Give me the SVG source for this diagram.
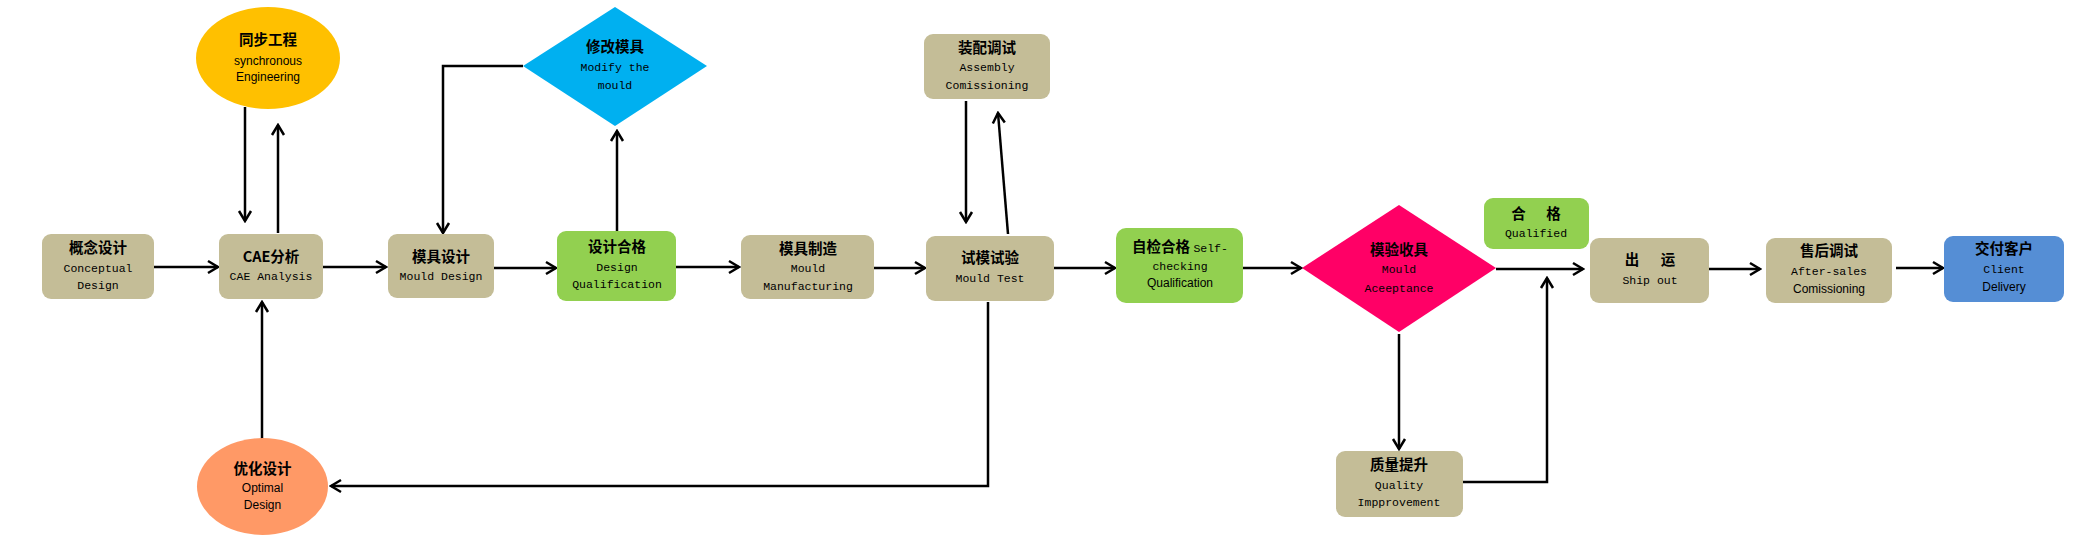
<svg xmlns="http://www.w3.org/2000/svg" width="2089" height="539" viewBox="0 0 2089 539">
<style>
.tan{fill:#C4BD97}
.grn{fill:#92D050}
.cn{font-family:"Noto Sans CJK SC","Noto Sans",sans-serif;font-weight:bold;font-size:14.5px;fill:#000;text-anchor:middle}
.mo{font-family:"Liberation Mono",monospace;font-size:11.5px;fill:#000;text-anchor:middle}
.sa{font-family:"Liberation Sans",Arial,sans-serif;font-size:12px;fill:#000;text-anchor:middle}
.ln{fill:none;stroke:#000;stroke-width:2.5}
</style>
<defs>
<marker id="ah" markerWidth="14" markerHeight="16" refX="12" refY="8" orient="auto" markerUnits="userSpaceOnUse" viewBox="0 0 14 16">
<path d="M2,2 L12,8 L2,14" fill="none" stroke="#000" stroke-width="2.5"/>
</marker>
</defs>
<rect width="2089" height="539" fill="#fff"/>
<g id="connectors">
<path class="ln" d="M154,267 H218" marker-end="url(#ah)"/>
<path class="ln" d="M245,107 V221" marker-end="url(#ah)"/>
<path class="ln" d="M278,233 V125" marker-end="url(#ah)"/>
<path class="ln" d="M323,267 H386" marker-end="url(#ah)"/>
<path class="ln" d="M494,268 H556" marker-end="url(#ah)"/>
<path class="ln" d="M617,231 V131" marker-end="url(#ah)"/>
<path class="ln" d="M523,66 H443 V233" marker-end="url(#ah)"/>
<path class="ln" d="M676,267 H739" marker-end="url(#ah)"/>
<path class="ln" d="M874,268 H925" marker-end="url(#ah)"/>
<path class="ln" d="M966,101 V222" marker-end="url(#ah)"/>
<path class="ln" d="M1008,234 L998,113" marker-end="url(#ah)"/>
<path class="ln" d="M1054,268 H1115" marker-end="url(#ah)"/>
<path class="ln" d="M1243,268 H1301" marker-end="url(#ah)"/>
<path class="ln" d="M1496,269 H1583" marker-end="url(#ah)"/>
<path class="ln" d="M1399,334 V449" marker-end="url(#ah)"/>
<path class="ln" d="M1463,482 H1547 V278" marker-end="url(#ah)"/>
<path class="ln" d="M1709,269 H1760" marker-end="url(#ah)"/>
<path class="ln" d="M1896,268 H1943" marker-end="url(#ah)"/>
<path class="ln" d="M988,302 V486 H331" marker-end="url(#ah)"/>
<path class="ln" d="M262,439 V302" marker-end="url(#ah)"/>
</g>
<g id="n-concept">
<rect class="tan" x="42" y="234" width="112" height="65" rx="9"/>
<text class="cn" x="98" y="253">概念设计</text>
<text class="mo" x="98" y="272">Conceptual</text>
<text class="mo" x="98" y="289">Design</text>
</g>
<g id="n-cae">
<rect class="tan" x="219" y="234" width="104" height="65" rx="9"/>
<text class="cn" x="271" y="262">CAE分析</text>
<text class="mo" x="271" y="280">CAE Analysis</text>
</g>
<g id="n-sync">
<ellipse cx="268" cy="58" rx="72" ry="51" fill="#FFC000"/>
<text class="cn" x="268" y="45">同步工程</text>
<text class="sa" x="268" y="65">synchronous</text>
<text class="sa" x="268" y="81">Engineering</text>
</g>
<g id="n-mould-design">
<rect class="tan" x="388" y="234" width="106" height="64" rx="9"/>
<text class="cn" x="441" y="262">模具设计</text>
<text class="mo" x="441" y="280">Mould Design</text>
</g>
<g id="n-design-qual">
<rect class="grn" x="557" y="231" width="119" height="70" rx="9"/>
<text class="cn" x="617" y="252">设计合格</text>
<text class="mo" x="617" y="271">Design</text>
<text class="mo" x="617" y="288">Qualification</text>
</g>
<g id="n-modify">
<polygon points="615,7 707,66 615,126 523,66" fill="#00B0F0"/>
<text class="cn" x="615" y="52">修改模具</text>
<text class="mo" x="615" y="71">Modify the</text>
<text class="mo" x="615" y="89">mould</text>
</g>
<g id="n-manufacture">
<rect class="tan" x="741" y="235" width="133" height="64" rx="9"/>
<text class="cn" x="808" y="254">模具制造</text>
<text class="mo" x="808" y="272">Mould</text>
<text class="mo" x="808" y="290">Manufacturing</text>
</g>
<g id="n-test">
<rect class="tan" x="926" y="236" width="128" height="65" rx="9"/>
<text class="cn" x="990" y="263">试模试验</text>
<text class="mo" x="990" y="282">Mould Test</text>
</g>
<g id="n-assembly">
<rect class="tan" x="924" y="34" width="126" height="65" rx="9"/>
<text class="cn" x="987" y="53">装配调试</text>
<text class="mo" x="987" y="71">Assembly</text>
<text class="mo" x="987" y="89">Comissioning</text>
</g>
<g id="n-selfcheck">
<rect class="grn" x="1116" y="228" width="127" height="75" rx="10"/>
<text class="cn" x="1180" y="252">自检合格 <tspan style="font-family:'Liberation Mono',monospace;font-weight:normal;font-size:11.5px">Self-</tspan></text>
<text class="mo" x="1180" y="270">checking</text>
<text class="sa" x="1180" y="287">Qualification</text>
</g>
<g id="n-acceptance">
<polygon points="1399,205 1496,268 1399,332 1302,268" fill="#FF0066"/>
<text class="cn" x="1399" y="255">模验收具</text>
<text class="mo" x="1399" y="273">Mould</text>
<text class="mo" x="1399" y="292">Aceeptance</text>
</g>
<g id="n-qualified">
<rect class="grn" x="1484" y="198" width="105" height="51" rx="9"/>
<text class="cn" x="1536" y="219" style="word-spacing:17px">合 格</text>
<text class="mo" x="1536" y="237">Qualified</text>
</g>
<g id="n-quality">
<rect class="tan" x="1336" y="451" width="127" height="66" rx="9"/>
<text class="cn" x="1399" y="470">质量提升</text>
<text class="mo" x="1399" y="489">Quality</text>
<text class="mo" x="1399" y="506">Impprovement</text>
</g>
<g id="n-ship">
<rect class="tan" x="1590" y="238" width="119" height="65" rx="9"/>
<text class="cn" x="1650" y="265" style="word-spacing:18px">出 运</text>
<text class="mo" x="1650" y="284">Ship out</text>
</g>
<g id="n-aftersales">
<rect class="tan" x="1766" y="238" width="126" height="65" rx="9"/>
<text class="cn" x="1829" y="256">售后调试</text>
<text class="mo" x="1829" y="275">After-sales</text>
<text class="sa" x="1829" y="293">Comissioning</text>
</g>
<g id="n-delivery">
<rect x="1944" y="236" width="120" height="66" rx="9" fill="#558ED5"/>
<text class="cn" x="2004" y="254">交付客户</text>
<text class="mo" x="2004" y="273">Client</text>
<text class="sa" x="2004" y="291">Delivery</text>
</g>
<g id="n-optimal">
<ellipse cx="262.5" cy="486.5" rx="65.5" ry="48.5" fill="#FF9966"/>
<text class="cn" x="262.5" y="474">优化设计</text>
<text class="sa" x="262.5" y="492">Optimal</text>
<text class="sa" x="262.5" y="509">Design</text>
</g>
</svg>
